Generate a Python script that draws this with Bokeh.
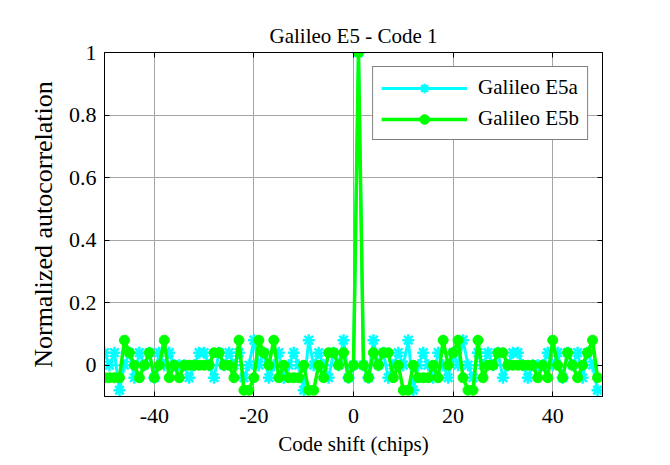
import numpy as np
from bokeh.plotting import figure
from bokeh.models import (LinearAxis, FixedTicker, Range1d, Legend, LegendItem,
                          ColumnDataSource)
from bokeh.embed import file_html
from bokeh.resources import INLINE

# ---------------- data ----------------
code_shift = list(range(-50, 50))

e5a = [0.04, 0, 0.04, -0.08, 0, 0.04, -0.04, 0.04, 0, 0.04,
       -0.04, 0.04, 0, 0.04, 0, 0, 0, -0.04, 0, 0.04,
       0.04, 0, -0.04, 0.04, 0, 0.04, 0, 0.04, -0.04, 0,
       0.08, 0, 0.04, -0.04, 0, 0.04, -0.04, 0, 0.04, 0,
       -0.08, 0.08, 0, 0.04, 0, -0.04, 0.04, 0, 0.08, -0.04,
       0, 1, 0, -0.04, 0.08, 0, 0.04, -0.04, 0, 0.04,
       0, 0.08, -0.08, 0, 0.04, 0, -0.04, 0.04, 0, -0.04,
       0.04, 0, 0.08, 0, -0.04, 0.04, 0, 0.04, 0, 0.04,
       -0.04, 0, 0.04, 0.04, 0, -0.04, 0, 0, 0, 0.04,
       0, 0.04, -0.04, 0.04, 0, 0.04, -0.04, 0.04, 0, -0.08]

e5b = [-0.04, -0.04, -0.04, -0.04, 0.08, 0.04, 0, -0.04, 0, 0.04,
       -0.04, 0, 0.08, -0.04, 0, -0.04, 0, 0, 0, 0,
       0, 0, 0.04, 0.04, 0, 0, -0.04, 0.08, -0.08, -0.08,
       -0.04, 0.08, 0.04, 0, 0.08, -0.04, 0, -0.04, -0.04, -0.04,
       0, -0.08, -0.08, 0, -0.04, 0.04, 0.04, 0, 0.04, -0.04,
       0, 1, 0, -0.04, 0.04, 0, 0.04, 0.04, -0.04, 0,
       -0.08, -0.08, 0, -0.04, -0.04, -0.04, 0, -0.04, 0.08, 0,
       0.04, 0.08, -0.04, -0.08, -0.08, 0.08, -0.04, 0, 0, 0.04,
       0.04, 0, 0, 0, 0, 0, 0, -0.04, 0, -0.04,
       0.08, 0, -0.04, 0.04, 0, -0.04, 0, 0.04, 0.08, -0.04]

x_ticks = [-40, -20, 0, 20, 40]
x_tick_labels = ["-40", "-20", "0", "20", "40"]
y_ticks = [0, 0.2, 0.4, 0.6, 0.8, 1]
y_tick_labels = ["0", "0.2", "0.4", "0.6", "0.8", "1"]

series_names = ["Galileo E5a", "Galileo E5b"]
title_text = "Galileo E5 - Code 1"
x_label = "Code shift (chips)"
y_label = "Normalized autocorrelation"

# ---------------- figure ----------------
FONT = "Liberation Serif"

p = figure(width=668, height=463, output_backend="svg", toolbar_location=None,
           x_range=Range1d(-50, 50), y_range=Range1d(-0.1, 1),
           min_border_left=104, min_border_right=66,
           min_border_top=52, min_border_bottom=67)
p.background_fill_color = "white"
p.border_fill_color = "white"
p.outline_line_color = "black"
p.outline_line_width = 1

p.title.text = title_text
p.title.align = "center"
p.title.vertical_align = "top"
p.title.text_font = FONT
p.title.text_font_size = "21px"
p.title.text_font_style = "normal"
p.title.text_color = "black"
p.title.standoff = 5


def style_axis(ax, show_labels=True, standoff=8):
    ax.axis_line_color = "black"
    ax.major_tick_line_color = "black"
    ax.major_tick_in = 5
    ax.major_tick_out = 0
    ax.minor_tick_line_color = None
    ax.major_label_text_font = FONT
    if show_labels:
        ax.major_label_text_color = "black"
        ax.major_label_text_font_size = "22px"
    else:
        ax.major_label_text_color = None
        ax.major_label_text_font_size = "1px"
    ax.major_label_standoff = standoff


p.xaxis.ticker = FixedTicker(ticks=x_ticks)
p.yaxis.ticker = FixedTicker(ticks=y_ticks)
p.xaxis.major_label_overrides = dict(zip(x_ticks, x_tick_labels))
p.yaxis.major_label_overrides = dict(zip(y_ticks, y_tick_labels))
style_axis(p.xaxis[0], standoff=12)
style_axis(p.yaxis[0], standoff=8)

p.xaxis.axis_label = x_label
p.xaxis.axis_label_text_font = FONT
p.xaxis.axis_label_text_font_size = "21px"
p.xaxis.axis_label_text_font_style = "normal"
p.xaxis.axis_label_text_color = "black"
p.xaxis.axis_label_standoff = 6

p.yaxis.axis_label = y_label
p.yaxis.axis_label_text_font = FONT
p.yaxis.axis_label_text_font_size = "26px"
p.yaxis.axis_label_text_font_style = "normal"
p.yaxis.axis_label_text_color = "black"
p.yaxis.axis_label_standoff = 8

top_ax = LinearAxis(ticker=FixedTicker(ticks=x_ticks))
style_axis(top_ax, show_labels=False, standoff=0)
p.add_layout(top_ax, "above")
right_ax = LinearAxis(ticker=FixedTicker(ticks=y_ticks))
style_axis(right_ax, show_labels=False, standoff=0)
p.add_layout(right_ax, "right")

p.xgrid.ticker = FixedTicker(ticks=x_ticks)
p.ygrid.ticker = FixedTicker(ticks=y_ticks)
p.grid.grid_line_color = "#a6a6a6"
p.grid.grid_line_width = 1

# ---------------- series ----------------
src = ColumnDataSource(dict(x=code_shift, a=e5a, b=e5b))

la = p.line("x", "a", source=src, line_color="#00FFFF", line_width=3)
sa = p.scatter("x", "a", source=src, marker="asterisk", size=12,
               line_color="#00FFFF", line_width=2.5)
lb = p.line("x", "b", source=src, line_color="#00FF00", line_width=3.5)
sb = p.scatter("x", "b", source=src, marker="circle", size=10,
               fill_color="#00FF00", line_color="#00FF00")

legend = Legend(items=[LegendItem(label=series_names[0], renderers=[la, sa]),
                       LegendItem(label=series_names[1], renderers=[lb, sb])],
                location="top_right", margin=14, padding=8, spacing=6,
                glyph_width=86, glyph_height=24, label_standoff=11,
                label_text_font=FONT, label_text_font_size="21px",
                label_text_color="black",
                border_line_color="black", border_line_width=1,
                background_fill_color="white", background_fill_alpha=1)
p.add_layout(legend)

open("out.html", "w").write(file_html(p, INLINE))
